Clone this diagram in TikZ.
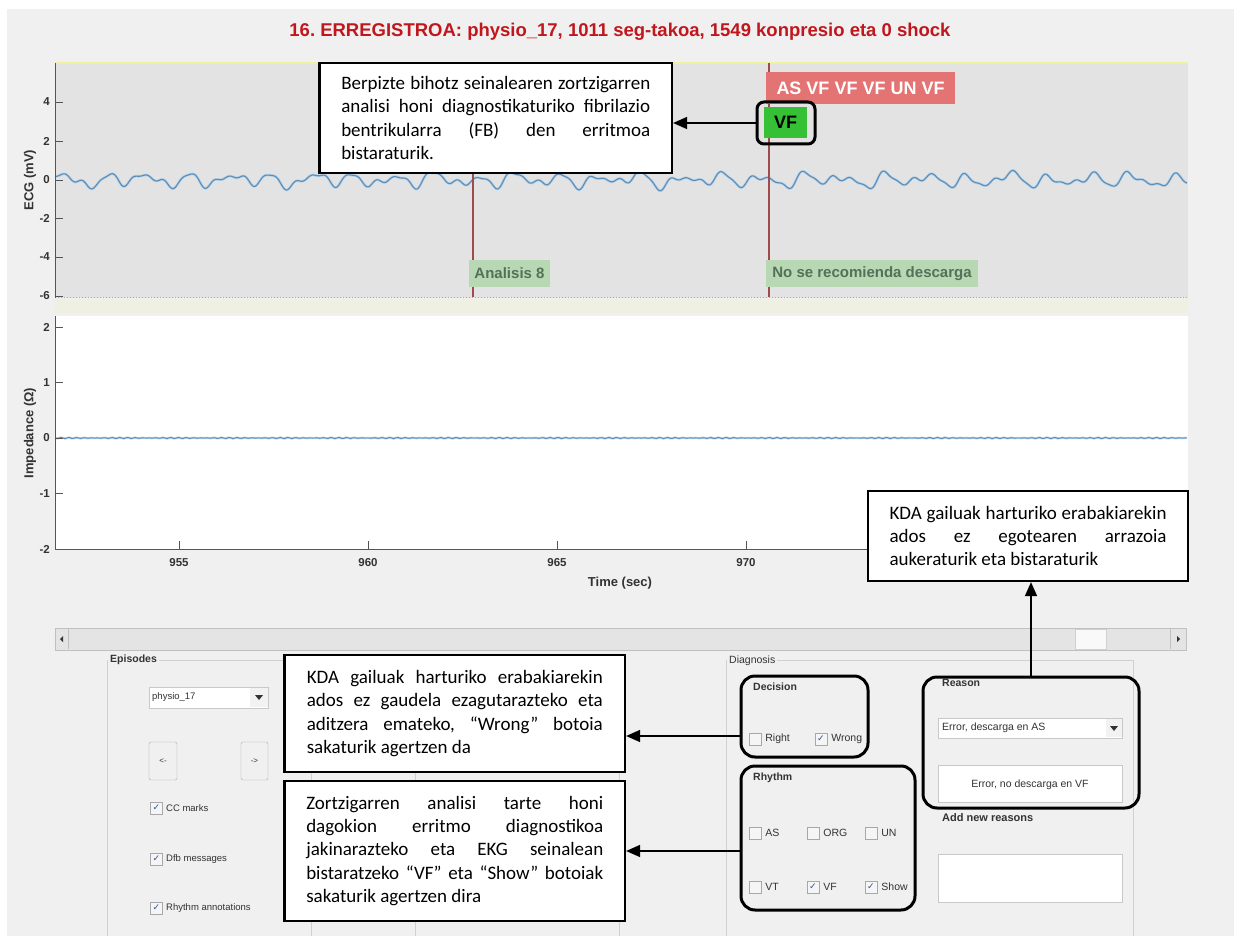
\documentclass[tikz,border=0pt]{standalone}
\usepackage{fontspec}
\setmainfont{Liberation Sans}
\newfontfamily\calib{Carlito}
\newfontfamily\dvs{DejaVu Sans}
\usetikzlibrary{arrows.meta}
\definecolor{bgc}{HTML}{F0F0F0}
\definecolor{ecggray}{HTML}{E3E3E3}
\definecolor{titlered}{HTML}{C0161C}
\definecolor{sigblue}{HTML}{5A8DB8}
\definecolor{sigglow}{HTML}{B8D2E8}
\definecolor{markred}{HTML}{9E4B4B}
\definecolor{labgreen}{HTML}{B7D8B2}
\definecolor{labtext}{HTML}{55705A}
\definecolor{rhythmred}{HTML}{E47373}
\definecolor{vfgreen}{HTML}{36C036}
\definecolor{yel}{HTML}{F0F0A0}
\definecolor{dotol}{HTML}{B4B464}
\definecolor{band}{HTML}{EFEFE2}
\definecolor{axisc}{HTML}{555555}
\definecolor{guitext}{HTML}{333333}
\definecolor{framec}{HTML}{D0D0D0}
\definecolor{cbborder}{HTML}{A8A8A8}
\definecolor{checkblue}{HTML}{3A4FA0}
\definecolor{fieldborder}{HTML}{C8C8C8}
\definecolor{scrollc}{HTML}{E4E4E4}
\definecolor{scrollb}{HTML}{C0C0C0}
\newcommand\jl[2]{\leavevmode\hbox to #1{\spaceskip=0.226em plus 1fil\relax #2}}
\newcommand\lastl[1]{\leavevmode\hbox{\spaceskip=0.226em\relax #1}}
\frenchspacing
\begin{document}
\begin{tikzpicture}[x=1pt,y=-1pt,
  declare function={
    ecg(\t)=180 - 4.6*sin(360*mod(\t/41,1)) - 3.0*sin(360*mod(\t/26.7+0.23,1)) - 1.8*sin(360*mod(\t/16.3+0.61,1)) - 1.6*sin(360*mod(\t/97+0.4,1)) - 1.2*sin(360*mod(\t/63+0.1,1));
    imp(\t)=438 + 0.35*sin(360*mod(\t/7.3,1)) + 0.25*sin(360*mod(\t/3.1+0.3,1));
  },
  annot/.style={draw=black, line width=2.2pt, fill=white, inner ysep=0pt, align=left, font=\calib\fontsize{19}{23.3}\selectfont},
  hl/.style={draw=black, line width=3pt, rounded corners=14pt, inner sep=0pt},
  arr/.style={line width=1.5pt, -{Triangle[length=14pt,width=12pt]}},
  tickc/.style={axisc, line width=0.9pt},
  ticklab/.style={font=\bfseries\fontsize{11.5}{11.5}\selectfont, text=guitext, inner sep=0pt},
  axlab/.style={font=\bfseries\fontsize{13}{13}\selectfont, text=guitext, inner sep=0pt},
  marker/.style={fill=labgreen, text=labtext, font=\bfseries\fontsize{15}{15}\selectfont, inner sep=0pt, anchor=center, minimum height=27pt},
  gui/.style={font=\fontsize{10.5}{10.5}\selectfont, text=guitext, inner sep=0pt},
  guib/.style={font=\bfseries\fontsize{10.5}{10.5}\selectfont, text=guitext, inner sep=0pt},
  cb/.style={draw=cbborder, fill=white!92!gray, minimum size=12pt, inner sep=0pt},
  chk/.style={cb, font=\dvs\fontsize{9}{9}\selectfont, text=checkblue},
  field/.style={draw=fieldborder, fill=white, inner sep=0pt},
  grp/.style={draw=framec, line width=0.8pt},
  btn/.style={draw=cbborder, fill=white!88!gray, rounded corners=2pt, inner sep=0pt, font=\fontsize{8}{8}\selectfont, text=guitext}
]
\useasboundingbox (0,0) rectangle (1234,936);
% background
\fill[white] (0,0) rectangle (1234,936);
\fill[bgc] (7,9) rectangle (1234,936);

% title
\node[font=\bfseries\fontsize{18.5}{18.5}\selectfont, text=titlered, inner sep=0pt] (title) at (620,32)
  {16. ERREGISTROA: physio\_17, 1011 seg-takoa, 1549 konpresio eta 0 shock};

% ECG panel
\fill[ecggray] (55,63) rectangle (1188,298);
\fill[band] (55,299) rectangle (1188,313);
\draw[yel, line width=2pt] (55,63.5) -- (1188,63.5);
\draw[dotol, line width=1pt, dotted] (55,297.5) -- (1188,297.5);

% Impedance panel
\fill[white] (55,316) rectangle (1188,549);

% signals
\draw[sigglow, line width=2.6pt, line join=round] plot[domain=0:1131, samples=900] ({56+\x},{ecg(\x)});
\draw[sigblue, line width=1.1pt, line join=round] plot[domain=0:1131, samples=900] ({56+\x},{ecg(\x)});
\draw[sigglow, line width=2.2pt] plot[domain=0:1131, samples=500] ({56+\x},{imp(\x)});
\draw[sigblue, line width=0.9pt] plot[domain=0:1131, samples=500] ({56+\x},{imp(\x)});

% analysis marks
\draw[markred, line width=1.5pt] (473,63) -- (473,297);
\draw[markred, line width=1.5pt] (769,63) -- (769,297);
\node[marker, minimum width=81pt] (an8) at (509.5,273.5) {Analisis 8};
\node[marker, minimum width=212pt] (nodesc) at (872,273.5) {No se recomienda descarga};
\node[fill=rhythmred, text=white, font=\bfseries\fontsize{18}{18}\selectfont, inner sep=0pt, minimum width=189pt, minimum height=32pt] (rhy) at (860.5,88) {AS VF VF VF UN VF};
\node[fill=vfgreen, text=black, font=\bfseries\fontsize{18}{18}\selectfont, inner sep=0pt, minimum width=43pt, minimum height=31pt] (vf) at (785.5,122.5) {VF};
\node[hl, rounded corners=7pt, minimum width=58pt, minimum height=42pt] (vfhl) at (786,123) {};

% ECG axis
\draw[axisc, line width=1pt] (55.5,63) -- (55.5,298);
\foreach \v/\yy in {4/102,2/141,0/180,-2/218,-4/257,-6/296}{
  \draw[tickc] (55.5,\yy) -- (63,\yy);
  \node[ticklab, anchor=east] (ey\v) at (50,\yy) {\v};
}
\node[axlab, rotate=90] (ecglab) at (30,180) {ECG (mV)};

% Impedance axis
\draw[axisc, line width=1pt] (55.5,316) -- (55.5,549) -- (1188,549);
\foreach \v/\yy in {2/327,1/382.5,0/438,-1/493.5,-2/549}{
  \draw[tickc] (55.5,\yy) -- (63,\yy);
  \node[ticklab, anchor=east] (iy\v) at (50,\yy) {\v};
}
\foreach \t/\xx in {955/179,960/368,965/557,970/746}{
  \draw[tickc] (\xx,549) -- (\xx,541);
  \node[ticklab] (tx\t) at (\xx,563) {\t};
}
\node[axlab, rotate=90] (implab) at (30,433) {Impedance (Ω)};
\node[axlab] (timelab) at (620,583) {Time (sec)};

% scrollbar
\node[draw=scrollb, fill=scrollc, minimum width=1131pt, minimum height=22pt, inner sep=0pt] (scroll) at (620.5,639) {};
\node[draw=framec, fill=white!95!gray, minimum width=31pt, minimum height=20pt, inner sep=0pt] (thumb) at (1090.5,639) {};
\draw[scrollb] (68,629) -- (68,649);
\draw[scrollb] (1170,629) -- (1170,649);
\fill[guitext] (63,636) -- (63,642) -- (60,639) -- cycle;
\fill[guitext] (1177,636) -- (1177,642) -- (1180,639) -- cycle;

% group frames
\draw[grp] (107,936) |- (311,660) -- (311,936);
\draw[grp] (415,936) |- (619,660) -- (619,936);
\draw[grp] (726,936) |- (1133,660) -- (1133,936);
\node[guib, fill=bgc, inner xsep=2pt, anchor=west] (epis) at (108,660) {Episodes};
\node[gui, fill=bgc, inner xsep=2pt, anchor=west] (diag) at (727,661) {Diagnosis};

% Episodes contents
\node[field, minimum width=119pt, minimum height=21pt] (dropep) at (208.5,697.5) {};
\fill[white!90!gray] (250,688) rectangle (267.5,707);
\fill[guitext] (255,695) -- (263,695) -- (259,700) -- cycle;
\node[gui, anchor=west, font=\fontsize{9.5}{9.5}\selectfont] (dropeptxt) at (152,697.5) {physio\_17};
\node[btn, minimum width=28pt, minimum height=38pt] (bprev) at (163,761) {<-};
\node[btn, minimum width=27pt, minimum height=38pt] (bnext) at (254.5,761) {->};
\node[chk] (cbcc) at (156.5,808) {✓};
\node[gui, anchor=west, font=\fontsize{9.5}{9.5}\selectfont] (lcc) at (166,808) {CC marks};
\node[chk] (cbdfb) at (156.5,859) {✓};
\node[gui, anchor=west, font=\fontsize{9.5}{9.5}\selectfont] (ldfb) at (166,859) {Dfb messages};
\node[chk] (cbra) at (156.5,908) {✓};
\node[gui, anchor=west, font=\fontsize{9.5}{9.5}\selectfont] (lra) at (166,908) {Rhythm annotations};

% Diagnosis contents
\node[guib, anchor=west] (decl) at (753,687) {Decision};
\node[cb] (cbright) at (755,739) {};
\node[gui, anchor=west] (lright) at ([xshift=4pt]cbright.east) {Right};
\node[chk] (cbwrong) at (821,739) {✓};
\node[gui, anchor=west] (lwrong) at ([xshift=4pt]cbwrong.east) {Wrong};

\node[guib, anchor=west] (rhyl) at (753,778) {Rhythm};
\node[cb] (cbas) at (755,833) {};
\node[gui, anchor=west] (las) at ([xshift=4pt]cbas.east) {AS};
\node[cb] (cborg) at (813,833) {};
\node[gui, anchor=west] (lorg) at ([xshift=4pt]cborg.east) {ORG};
\node[cb] (cbun) at (871,833) {};
\node[gui, anchor=west] (lun) at ([xshift=4pt]cbun.east) {UN};
\node[cb] (cbvt) at (755,887) {};
\node[gui, anchor=west] (lvt) at ([xshift=4pt]cbvt.east) {VT};
\node[chk] (cbvf) at (813,887) {✓};
\node[gui, anchor=west] (lvf) at ([xshift=4pt]cbvf.east) {VF};
\node[chk] (cbshow) at (871,887) {✓};
\node[gui, anchor=west] (lshow) at ([xshift=4pt]cbshow.east) {Show};

\node[guib, anchor=west] (reasl) at (942,683) {Reason};
\node[field, minimum width=184pt, minimum height=20pt] (dropr) at (1030,728) {};
\fill[white!90!gray] (1106,719) rectangle (1121.5,737);
\fill[guitext] (1110,726) -- (1118,726) -- (1114,731) -- cycle;
\node[gui, anchor=west] (droprtxt) at (942,728) {Error, descarga en AS};
\node[field, minimum width=184pt, minimum height=37pt] (bnodesc) at (1030,783.5) {};
\node[gui] (bnodesctxt) at (1030,785) {Error, no descarga en VF};
\node[guib, anchor=west, font=\bfseries\fontsize{11}{11}\selectfont] (addl) at (942,818) {Add new reasons};
\node[field, minimum width=184pt, minimum height=48pt] (addfield) at (1030,878) {};

% highlight frames
\node[hl, minimum width=127pt, minimum height=81pt] (decision) at (804.5,716.5) {};
\node[hl, minimum width=174pt, minimum height=144pt] (rhythm) at (828,838) {};
\node[hl, minimum width=216pt, minimum height=131pt] (reason) at (1031,742.5) {};

% annotation boxes
\node[annot, text width=309pt, inner xsep=21.75pt, minimum height=110pt] (box1) at (495.75,118) {%
\jl{309pt}{Berpizte bihotz seinalearen zortzigarren}\\
\jl{309pt}{analisi honi diagnostikaturiko fibrilazio}\\
\jl{309pt}{bentrikularra (FB) den erritmoa}\\
\lastl{bistaraturik.}};
\node[annot, text width=296pt, inner xsep=22.25pt, minimum height=117pt] (box2) at (454.75,713.5) {%
\jl{296pt}{KDA gailuak harturiko erabakiarekin}\\
\jl{296pt}{ados ez gaudela ezagutarazteko eta}\\
\jl{296pt}{aditzera emateko, “Wrong” botoia}\\
\lastl{sakaturik agertzen da}};
\node[annot, text width=297pt, inner xsep=21.75pt, minimum height=140pt] (box3) at (454.75,851) {%
\jl{297pt}{Zortzigarren analisi tarte honi}\\
\jl{297pt}{dagokion erritmo diagnostikoa}\\
\jl{297pt}{jakinarazteko eta EKG seinalean}\\
\jl{297pt}{bistaratzeko “VF” eta “Show” botoiak}\\
\lastl{sakaturik agertzen dira}};
\node[annot, text width=277pt, inner xsep=21.5pt, minimum height=90pt] (box4) at (1028,536) {%
\jl{277pt}{KDA gailuak harturiko erabakiarekin}\\
\jl{277pt}{ados ez egotearen arrazoia}\\
\lastl{aukeraturik eta bistaraturik}};

% arrows
\draw[arr] (vfhl.west) -- (vfhl.west -| box1.east);
\draw[arr] ([yshift=-19.5pt]decision.west) -- ([yshift=-19.5pt]decision.west -| box2.east);
\draw[arr] ([yshift=-13pt]rhythm.west) -- ([yshift=-13pt]rhythm.west -| box3.east);
\draw[arr] (reason.north) -- (reason.north |- box4.south);
\end{tikzpicture}
\end{document}
